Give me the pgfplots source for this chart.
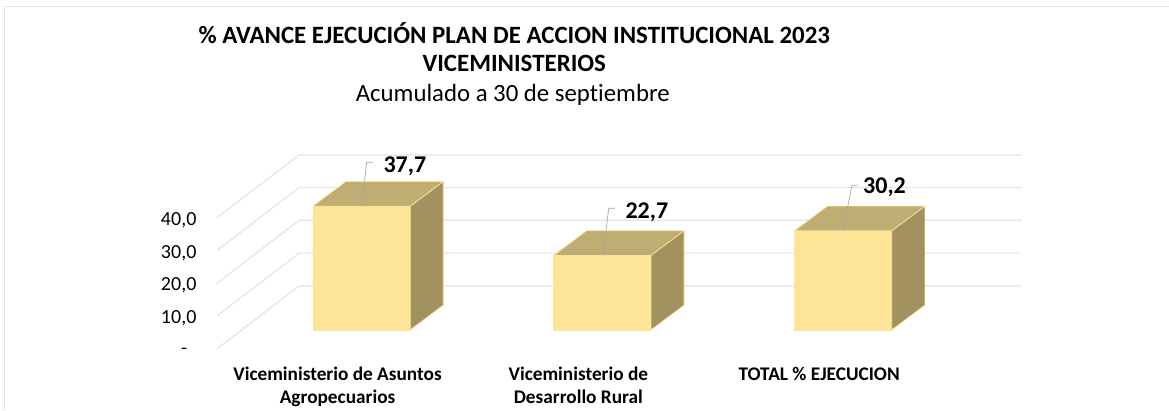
\documentclass[border=0pt]{standalone}
\usepackage{fontspec}
\setmainfont{Carlito}[Ligatures=NoCommon]
\usepackage{pgfplots}
\pgfplotsset{compat=1.18}
\definecolor{barfront}{HTML}{FEE497}
\definecolor{bartop}{HTML}{BFAE73}
\definecolor{barside}{HTML}{A29260}
\definecolor{gridc}{HTML}{E4E4E4}
\definecolor{leader}{HTML}{A6A6A6}

\begin{document}
\begin{tikzpicture}[x=1pt,y=1pt]
  \begin{axis}[
    at={(0,0)}, anchor=south west,
    scale only axis,
    width=805pt, height=194pt,
    xmin=-0.6007, xmax=2.741,
    ymin=-5.8, ymax=53.35,
    clip=false,
    axis line style={draw=none},
    tick style={draw=none},
    xtick={0,1,2},
    xticklabels={Viceministerio de Asuntos\\Agropecuarios,Viceministerio de\\Desarrollo Rural,TOTAL \% EJECUCION},
    xticklabel style={align=center, anchor=north, xshift=-24pt, yshift=-15pt,
      font=\fontsize{19.3}{23}\selectfont\bfseries},
    ytick={0,10,20,30,40},
    yticklabels={-\ \ \ ,{10,0},{20,0},{30,0},{40,0}},
    yticklabel style={anchor=east, xshift=-17pt, yshift=-21.5pt,
      font=\fontsize{20}{22}\selectfont},
  ]
    % grid: side wall then back wall, for 0 to 40
    \addplot[gridc, line width=1.2pt] coordinates {(-0.6007,-5.8) (-0.2592,13.4) (2.741,13.4)};
    \addplot[gridc, line width=1.2pt] coordinates {(-0.6007,4.2) (-0.2592,23.4) (2.741,23.4)};
    \addplot[gridc, line width=1.2pt] coordinates {(-0.6007,14.2) (-0.2592,33.4) (2.741,33.4)};
    \addplot[gridc, line width=1.2pt] coordinates {(-0.6007,24.2) (-0.2592,43.4) (2.741,43.4)};
    \addplot[gridc, line width=1.2pt] coordinates {(-0.6007,34.2) (-0.2592,53.35) (2.741,53.35)};

    % bar fronts
    \addplot[ybar, bar width=97.5pt, fill=barfront, draw=barfront, line width=0.5pt]
      coordinates {(0,37.7) (1,22.7) (2,30.2)};

    % bar 1
    \addplot[fill=bartop, draw=barfront, line width=0.7pt] coordinates
      {(-0.2024,37.7) (0.2024,37.7) (0.3394,45.23) (-0.0654,45.23)} -- cycle;
    \addplot[fill=barside, draw=barfront, line width=0.7pt] coordinates
      {(0.2024,0) (0.2024,37.7) (0.3394,45.23) (0.3394,7.53)} -- cycle;
    % bar 2
    \addplot[fill=bartop, draw=barfront, line width=0.7pt] coordinates
      {(0.7976,22.7) (1.2024,22.7) (1.3394,30.23) (0.9346,30.23)} -- cycle;
    \addplot[fill=barside, draw=barfront, line width=0.7pt] coordinates
      {(1.2024,0) (1.2024,22.7) (1.3394,30.23) (1.3394,7.53)} -- cycle;
    % bar 3
    \addplot[fill=bartop, draw=barfront, line width=0.7pt] coordinates
      {(1.7976,30.2) (2.2024,30.2) (2.3394,37.73) (1.9346,37.73)} -- cycle;
    \addplot[fill=barside, draw=barfront, line width=0.7pt] coordinates
      {(2.2024,0) (2.2024,30.2) (2.3394,37.73) (2.3394,7.53)} -- cycle;

    % leader lines and value labels
    \addplot[leader, line width=0.7pt] coordinates {(0.002,37.7) (0.021,51.1) (0.047,51.1)};
    \addplot[leader, line width=0.7pt] coordinates {(1.003,22.7) (1.0265,37.1) (1.0535,37.1)};
    \addplot[leader, line width=0.7pt] coordinates {(1.999,30.2) (2.0365,44.1) (2.06,44.1)};
    \node[font=\fontsize{24}{26}\selectfont\bfseries] at (axis cs:0.18,50.0) {37,7};
    \node[font=\fontsize{24}{26}\selectfont\bfseries] at (axis cs:1.185,35.8) {22,7};
    \node[font=\fontsize{24}{26}\selectfont\bfseries] at (axis cs:2.172,43.4) {30,2};
  \end{axis}

  % page coordinates as in the image, origin top left
  \begin{scope}[shift={(-217pt,349pt)},x=1pt,y=-1pt]
    \path (0,0) rectangle (1169,410);
    \draw[gridc, line width=1pt] (4.5,410) -- (4.5,7) -- (1169,7);
    \node[font=\fontsize{24.9}{28}\selectfont\bfseries] at (514.5,33) {\% AVANCE EJECUCIÓN PLAN DE ACCION INSTITUCIONAL 2023};
    \node[font=\fontsize{24.9}{28}\selectfont\bfseries] at (514.5,63) {VICEMINISTERIOS};
    \node[font=\fontsize{24.8}{28}\selectfont] at (513,95) {Acumulado a 30 de septiembre};
  \end{scope}
\end{tikzpicture}
\end{document}
